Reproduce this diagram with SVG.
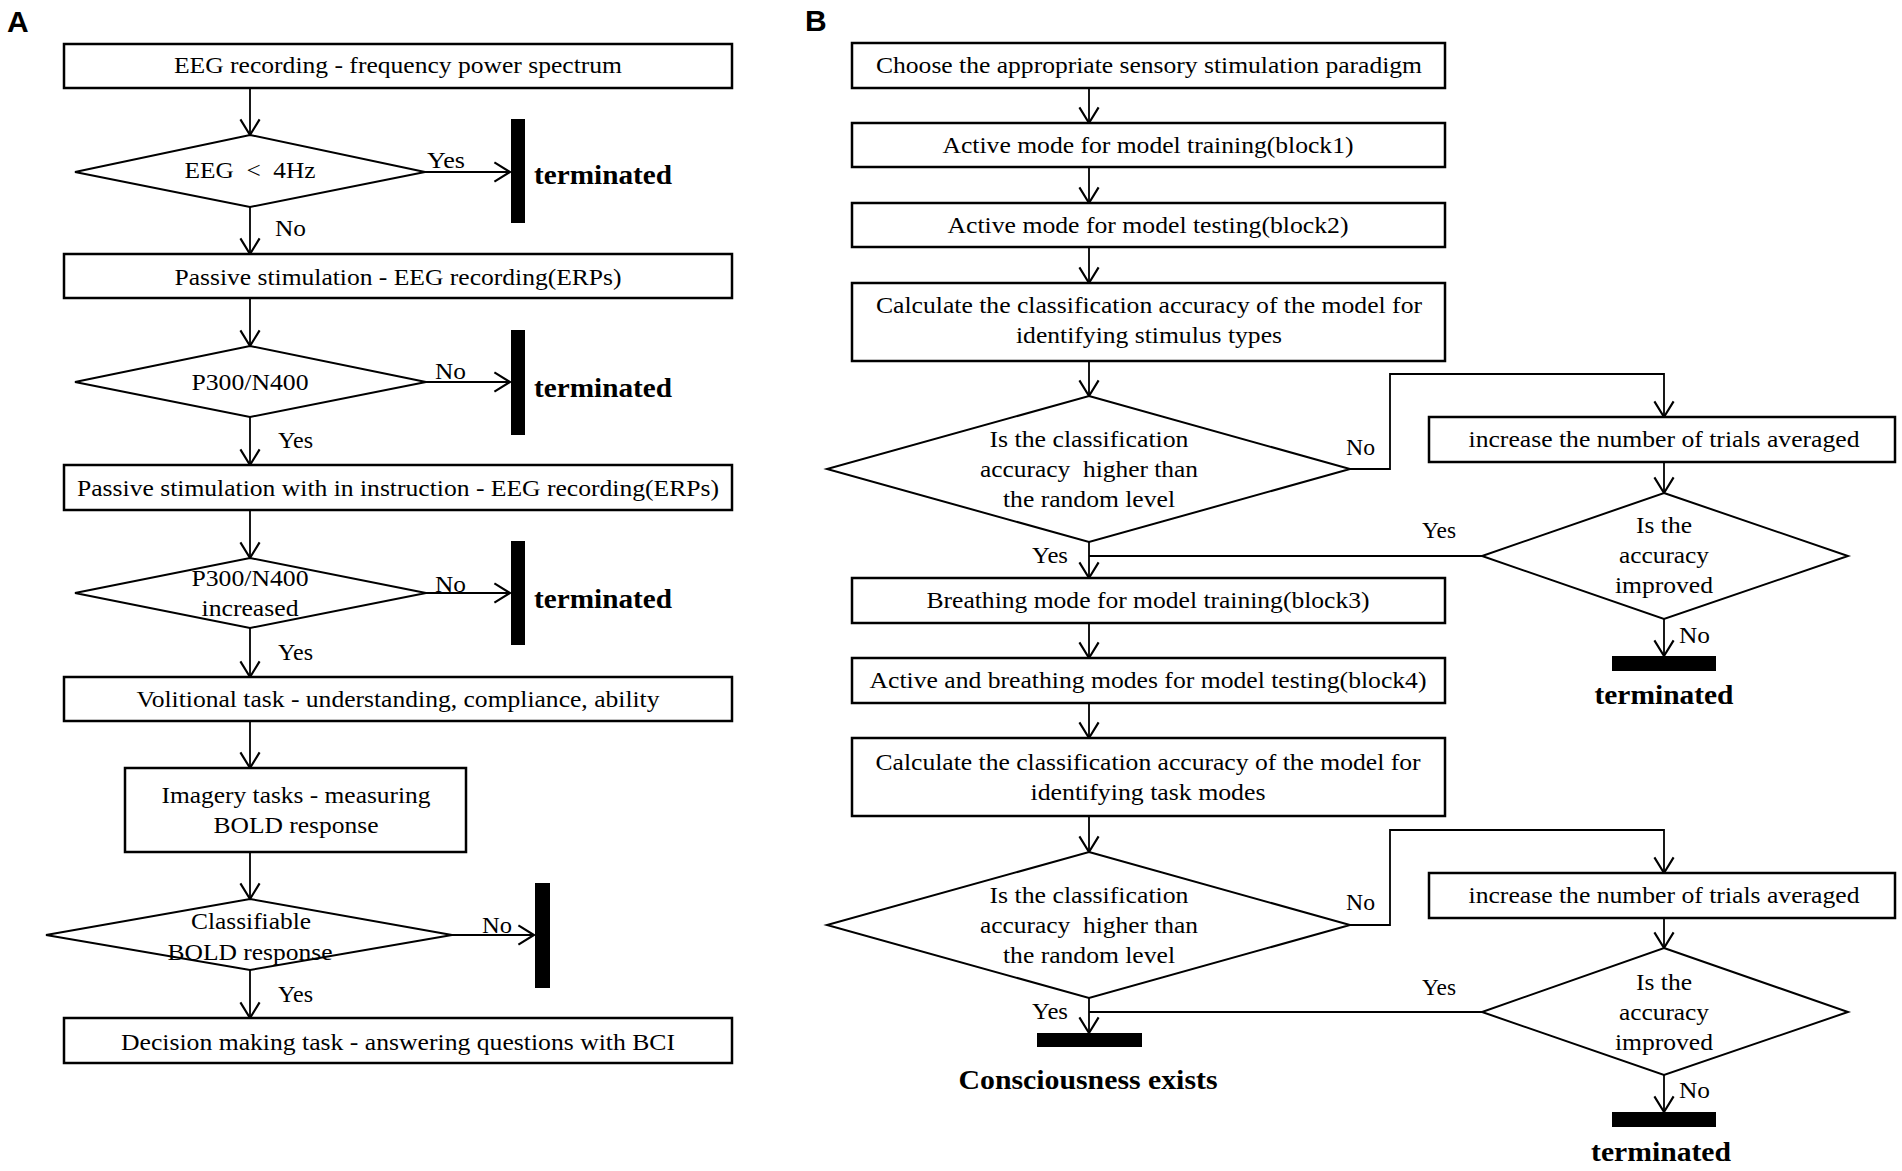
<svg xmlns="http://www.w3.org/2000/svg" width="1902" height="1171" viewBox="0 0 1902 1171">
<style>
.box{fill:#fff;stroke:#000;stroke-width:2.5}
.dia{fill:#fff;stroke:#000;stroke-width:2}
.bar{fill:#000}
.t{font-family:"Liberation Serif","Times New Roman",serif;font-size:24px;text-anchor:middle;fill:#000;white-space:pre}
.l{font-family:"Liberation Serif","Times New Roman",serif;font-size:23px;fill:#000}
.b{font-family:"Liberation Serif","Times New Roman",serif;font-size:27px;font-weight:bold;fill:#000}
.bc{text-anchor:middle}
.p{font-family:"Liberation Sans",Arial,sans-serif;font-size:30px;font-weight:bold;fill:#000}
.c{stroke:#000;stroke-width:1.8;fill:none}
</style>
<defs>
<marker id="ah" markerUnits="userSpaceOnUse" markerWidth="20" markerHeight="24" viewBox="-14 -10 16 20" refX="0" refY="0" orient="auto">
<path d="M-13,-8 L0,0 L-13,8" fill="none" stroke="#000" stroke-width="1.8"/>
</marker>
</defs>
<rect width="1902" height="1171" fill="#fff"/>
<text class="p" x="7" y="32">A</text>
<text class="p" x="805" y="31">B</text>

<g id="connectors">
<line class="c" x1="250" y1="88" x2="250" y2="135" marker-end="url(#ah)"/>
<line class="c" x1="250" y1="207" x2="250" y2="254" marker-end="url(#ah)"/>
<line class="c" x1="425" y1="172" x2="510" y2="172" marker-end="url(#ah)"/>
<line class="c" x1="250" y1="298" x2="250" y2="346" marker-end="url(#ah)"/>
<line class="c" x1="426" y1="382" x2="510" y2="382" marker-end="url(#ah)"/>
<line class="c" x1="250" y1="417" x2="250" y2="465" marker-end="url(#ah)"/>
<line class="c" x1="250" y1="510" x2="250" y2="558" marker-end="url(#ah)"/>
<line class="c" x1="426" y1="593" x2="510" y2="593" marker-end="url(#ah)"/>
<line class="c" x1="250" y1="628" x2="250" y2="677" marker-end="url(#ah)"/>
<line class="c" x1="250" y1="721" x2="250" y2="768" marker-end="url(#ah)"/>
<line class="c" x1="250" y1="852" x2="250" y2="899" marker-end="url(#ah)"/>
<line class="c" x1="452" y1="935" x2="534" y2="935" marker-end="url(#ah)"/>
<line class="c" x1="250" y1="970" x2="250" y2="1018" marker-end="url(#ah)"/>

<line class="c" x1="1089" y1="88" x2="1089" y2="123" marker-end="url(#ah)"/>
<line class="c" x1="1089" y1="167" x2="1089" y2="203" marker-end="url(#ah)"/>
<line class="c" x1="1089" y1="247" x2="1089" y2="283" marker-end="url(#ah)"/>
<line class="c" x1="1089" y1="361" x2="1089" y2="396" marker-end="url(#ah)"/>
<polyline class="c" points="1350,469 1390,469 1390,374 1664,374 1664,417" marker-end="url(#ah)"/>
<line class="c" x1="1664" y1="462" x2="1664" y2="493" marker-end="url(#ah)"/>
<line class="c" x1="1482" y1="556" x2="1089" y2="556"/>
<line class="c" x1="1089" y1="542" x2="1089" y2="578" marker-end="url(#ah)"/>
<line class="c" x1="1664" y1="619" x2="1664" y2="656" marker-end="url(#ah)"/>
<line class="c" x1="1089" y1="623" x2="1089" y2="658" marker-end="url(#ah)"/>
<line class="c" x1="1089" y1="703" x2="1089" y2="738" marker-end="url(#ah)"/>
<line class="c" x1="1089" y1="816" x2="1089" y2="852" marker-end="url(#ah)"/>
<polyline class="c" points="1350,925 1390,925 1390,830 1664,830 1664,873" marker-end="url(#ah)"/>
<line class="c" x1="1664" y1="918" x2="1664" y2="948" marker-end="url(#ah)"/>
<line class="c" x1="1482" y1="1012" x2="1089" y2="1012"/>
<line class="c" x1="1089" y1="998" x2="1089" y2="1033" marker-end="url(#ah)"/>
<line class="c" x1="1664" y1="1075" x2="1664" y2="1112" marker-end="url(#ah)"/>

<text class="l" x="427" y="168" textLength="38" lengthAdjust="spacingAndGlyphs">Yes</text>
<text class="l" x="275" y="236" textLength="31" lengthAdjust="spacingAndGlyphs">No</text>
<text class="l" x="435" y="379" textLength="31" lengthAdjust="spacingAndGlyphs">No</text>
<text class="l" x="278" y="448" textLength="35" lengthAdjust="spacingAndGlyphs">Yes</text>
<text class="l" x="435" y="592" textLength="31" lengthAdjust="spacingAndGlyphs">No</text>
<text class="l" x="278" y="660" textLength="35" lengthAdjust="spacingAndGlyphs">Yes</text>
<text class="l" x="482" y="933" textLength="30" lengthAdjust="spacingAndGlyphs">No</text>
<text class="l" x="278" y="1002" textLength="35" lengthAdjust="spacingAndGlyphs">Yes</text>
<text class="l" x="1346" y="455" textLength="29" lengthAdjust="spacingAndGlyphs">No</text>
<text class="l" x="1422" y="538" textLength="34" lengthAdjust="spacingAndGlyphs">Yes</text>
<text class="l" x="1032" y="563" textLength="36" lengthAdjust="spacingAndGlyphs">Yes</text>
<text class="l" x="1679" y="643" textLength="31" lengthAdjust="spacingAndGlyphs">No</text>
<text class="l" x="1346" y="910" textLength="29" lengthAdjust="spacingAndGlyphs">No</text>
<text class="l" x="1422" y="995" textLength="34" lengthAdjust="spacingAndGlyphs">Yes</text>
<text class="l" x="1032" y="1019" textLength="36" lengthAdjust="spacingAndGlyphs">Yes</text>
<text class="l" x="1679" y="1098" textLength="31" lengthAdjust="spacingAndGlyphs">No</text>
</g>

<g id="a1"><rect class="box" x="64" y="44" width="668" height="44"/><text class="t" x="398" y="73" textLength="448" lengthAdjust="spacingAndGlyphs">EEG recording - frequency power spectrum</text></g>
<g id="a2"><polygon class="dia" points="250,135 425,172 250,207 75,172"/><text class="t" x="250" y="178" textLength="131" lengthAdjust="spacingAndGlyphs">EEG  &lt;  4Hz</text></g>
<g id="a2t"><rect class="bar" x="511" y="119" width="14" height="104"/><text class="b" x="534" y="184" textLength="138" lengthAdjust="spacingAndGlyphs">terminated</text></g>
<g id="a3"><rect class="box" x="64" y="254" width="668" height="44"/><text class="t" x="398" y="285" textLength="447" lengthAdjust="spacingAndGlyphs">Passive stimulation - EEG recording(ERPs)</text></g>
<g id="a4"><polygon class="dia" points="250,346 426,382 250,417 75,382"/><text class="t" x="250" y="390" textLength="117" lengthAdjust="spacingAndGlyphs">P300/N400</text></g>
<g id="a4t"><rect class="bar" x="511" y="330" width="14" height="105"/><text class="b" x="534" y="397" textLength="138" lengthAdjust="spacingAndGlyphs">terminated</text></g>
<g id="a5"><rect class="box" x="64" y="465" width="668" height="45"/><text class="t" x="398" y="496" textLength="642" lengthAdjust="spacingAndGlyphs">Passive stimulation with in instruction - EEG recording(ERPs)</text></g>
<g id="a6"><polygon class="dia" points="250,558 426,593 250,628 75,593"/><text class="t" x="250" y="586" textLength="117" lengthAdjust="spacingAndGlyphs">P300/N400</text><text class="t" x="250" y="616" textLength="97" lengthAdjust="spacingAndGlyphs">increased</text></g>
<g id="a6t"><rect class="bar" x="511" y="541" width="14" height="104"/><text class="b" x="534" y="608" textLength="138" lengthAdjust="spacingAndGlyphs">terminated</text></g>
<g id="a7"><rect class="box" x="64" y="677" width="668" height="44"/><text class="t" x="398" y="707" textLength="523" lengthAdjust="spacingAndGlyphs">Volitional task - understanding, compliance, ability</text></g>
<g id="a8"><rect class="box" x="125" y="768" width="341" height="84"/><text class="t" x="296" y="803" textLength="269" lengthAdjust="spacingAndGlyphs">Imagery tasks - measuring</text><text class="t" x="296" y="833" textLength="165" lengthAdjust="spacingAndGlyphs">BOLD response</text></g>
<g id="a9"><polygon class="dia" points="250,899 452,935 250,970 46,935"/><text class="t" x="251" y="929" textLength="120" lengthAdjust="spacingAndGlyphs">Classifiable</text><text class="t" x="250" y="960" textLength="165" lengthAdjust="spacingAndGlyphs">BOLD response</text></g>
<g id="a9t"><rect class="bar" x="535" y="883" width="15" height="105"/></g>
<g id="a10"><rect class="box" x="64" y="1018" width="668" height="45"/><text class="t" x="398" y="1050" textLength="554" lengthAdjust="spacingAndGlyphs">Decision making task - answering questions with BCI</text></g>

<g id="b1"><rect class="box" x="852" y="43" width="593" height="45"/><text class="t" x="1149" y="73" textLength="546" lengthAdjust="spacingAndGlyphs">Choose the appropriate sensory stimulation paradigm</text></g>
<g id="b2"><rect class="box" x="852" y="123" width="593" height="44"/><text class="t" x="1148" y="153" textLength="411" lengthAdjust="spacingAndGlyphs">Active mode for model training(block1)</text></g>
<g id="b3"><rect class="box" x="852" y="203" width="593" height="44"/><text class="t" x="1148" y="233" textLength="401" lengthAdjust="spacingAndGlyphs">Active mode for model testing(block2)</text></g>
<g id="b4"><rect class="box" x="852" y="283" width="593" height="78"/><text class="t" x="1149" y="313" textLength="546" lengthAdjust="spacingAndGlyphs">Calculate the classification accuracy of the model for</text><text class="t" x="1149" y="343" textLength="266" lengthAdjust="spacingAndGlyphs">identifying stimulus types</text></g>
<g id="b5"><polygon class="dia" points="1089,396 1350,469 1089,542 827,469"/><text class="t" x="1089" y="447" textLength="199" lengthAdjust="spacingAndGlyphs">Is the classification</text><text class="t" x="1089" y="477" textLength="218" lengthAdjust="spacingAndGlyphs">accuracy  higher than</text><text class="t" x="1089" y="507" textLength="172" lengthAdjust="spacingAndGlyphs">the random level</text></g>
<g id="b6"><rect class="box" x="1429" y="417" width="466" height="45"/><text class="t" x="1664" y="447" textLength="391" lengthAdjust="spacingAndGlyphs">increase the number of trials averaged</text></g>
<g id="b7"><polygon class="dia" points="1664,493 1848,556 1664,619 1482,556"/><text class="t" x="1664" y="533" textLength="56" lengthAdjust="spacingAndGlyphs">Is the</text><text class="t" x="1664" y="563" textLength="90" lengthAdjust="spacingAndGlyphs">accuracy</text><text class="t" x="1664" y="593" textLength="98" lengthAdjust="spacingAndGlyphs">improved</text></g>
<g id="b7t"><rect class="bar" x="1612" y="656" width="104" height="15"/><text class="b bc" x="1664" y="704" textLength="139" lengthAdjust="spacingAndGlyphs">terminated</text></g>
<g id="b8"><rect class="box" x="852" y="578" width="593" height="45"/><text class="t" x="1148" y="608" textLength="443" lengthAdjust="spacingAndGlyphs">Breathing mode for model training(block3)</text></g>
<g id="b9"><rect class="box" x="852" y="658" width="593" height="45"/><text class="t" x="1148" y="688" textLength="557" lengthAdjust="spacingAndGlyphs">Active and breathing modes for model testing(block4)</text></g>
<g id="b10"><rect class="box" x="852" y="738" width="593" height="78"/><text class="t" x="1148" y="770" textLength="545" lengthAdjust="spacingAndGlyphs">Calculate the classification accuracy of the model for</text><text class="t" x="1148" y="800" textLength="235" lengthAdjust="spacingAndGlyphs">identifying task modes</text></g>
<g id="b11"><polygon class="dia" points="1089,852 1350,925 1089,998 827,925"/><text class="t" x="1089" y="903" textLength="199" lengthAdjust="spacingAndGlyphs">Is the classification</text><text class="t" x="1089" y="933" textLength="218" lengthAdjust="spacingAndGlyphs">accuracy  higher than</text><text class="t" x="1089" y="963" textLength="172" lengthAdjust="spacingAndGlyphs">the random level</text></g>
<g id="b12"><rect class="box" x="1429" y="873" width="466" height="45"/><text class="t" x="1664" y="903" textLength="391" lengthAdjust="spacingAndGlyphs">increase the number of trials averaged</text></g>
<g id="b13"><polygon class="dia" points="1664,948 1848,1012 1664,1075 1482,1012"/><text class="t" x="1664" y="990" textLength="56" lengthAdjust="spacingAndGlyphs">Is the</text><text class="t" x="1664" y="1020" textLength="90" lengthAdjust="spacingAndGlyphs">accuracy</text><text class="t" x="1664" y="1050" textLength="98" lengthAdjust="spacingAndGlyphs">improved</text></g>
<g id="b14"><rect class="bar" x="1037" y="1033" width="105" height="14"/><text class="b bc" x="1088" y="1089" textLength="259" lengthAdjust="spacingAndGlyphs">Consciousness exists</text></g>
<g id="b15"><rect class="bar" x="1612" y="1112" width="104" height="15"/><text class="b bc" x="1661" y="1161" textLength="140" lengthAdjust="spacingAndGlyphs">terminated</text></g>
</svg>
